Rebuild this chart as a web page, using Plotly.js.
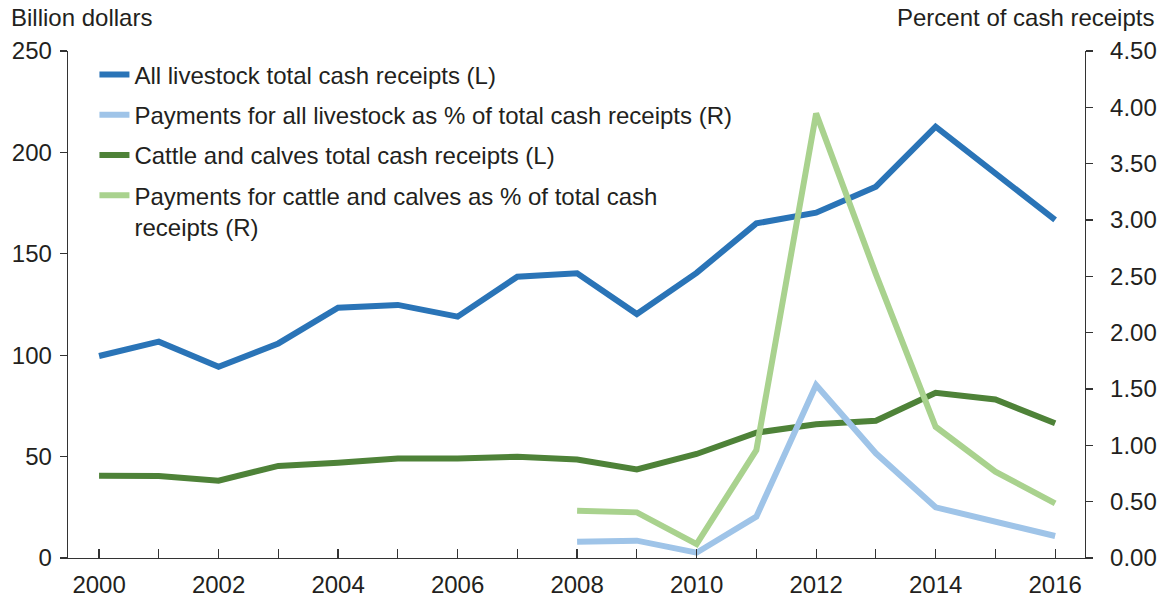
<!DOCTYPE html>
<html>
<head>
<meta charset="utf-8">
<script src="https://cdn.plot.ly/plotly-3.0.1.min.js"></script>
<style>
html, body { margin: 0; padding: 0; background: #fff; }
#chart { width: 1161px; height: 599px; }
</style>
</head>
<body>
<div id="chart"></div>
<script>
// ---- Data ----
const years = [2000, 2001, 2002, 2003, 2004, 2005, 2006, 2007, 2008, 2009, 2010, 2011, 2012, 2013, 2014, 2015, 2016];
const livestockReceipts = [99.6, 106.7, 94.3, 105.8, 123.4, 124.8, 119.0, 138.7, 140.4, 120.3, 140.6, 165.0, 170.3, 183.1, 212.7, 189.5, 166.7];
const cattleReceipts = [40.6, 40.4, 38.1, 45.4, 47.0, 49.1, 49.1, 49.9, 48.6, 43.7, 51.3, 61.8, 65.9, 67.7, 81.5, 78.2, 66.4];
const pctYears = [2008, 2009, 2010, 2011, 2012, 2013, 2014, 2015, 2016];
const livestockPaymentsPct = [0.145, 0.154, 0.047, 0.367, 1.535, 0.929, 0.45, 0.322, 0.195];
const cattlePaymentsPct = [0.42, 0.405, 0.124, 0.958, 3.946, 2.52, 1.165, 0.766, 0.485];
const xTickLabels = years.map(y => (y % 2 === 0 ? String(y) : ''));

const names = [
  'All livestock total cash receipts (L)',
  'Payments for all livestock as % of total cash receipts (R)',
  'Cattle and calves total cash receipts (L)',
  'Payments for cattle and calves as % of total cash<br>receipts (R)'
];
const colors = ['#2a74b7', '#9fc4e8', '#4e8238', '#a9d28e'];

const FONT = 'Liberation Sans, Arial, Helvetica, sans-serif';
const FS = 24;
const TXT = '#231f20';
const AX = '#333333';

const traces = [
  { x: years, y: livestockReceipts, yaxis: 'y', name: names[0], legendgroup: 'a',
    mode: 'lines', line: { color: colors[0], width: 6 } },
  { x: pctYears, y: livestockPaymentsPct, yaxis: 'y2', name: names[1], legendgroup: 'b',
    mode: 'lines', line: { color: colors[1], width: 6 } },
  { x: years, y: cattleReceipts, yaxis: 'y', name: names[2], legendgroup: 'c',
    mode: 'lines', line: { color: colors[2], width: 6 } },
  { x: pctYears, y: cattlePaymentsPct, yaxis: 'y2', name: names[3], legendgroup: 'd',
    mode: 'lines', line: { color: colors[3], width: 6 } }
];

const layout = {
  width: 1161, height: 599,
  margin: { l: 68, r: 76, t: 51, b: 41, pad: 0 },
  paper_bgcolor: '#fff', plot_bgcolor: '#fff',
  font: { family: FONT, size: FS, color: TXT },
  showlegend: true,
  legend: {
    x: 0.026, xanchor: 'left', y: 0.997, yanchor: 'top',
    bgcolor: 'rgba(0,0,0,0)', borderwidth: 0,
    traceorder: 'grouped', tracegroupgap: 6, valign: 'top',
    font: { family: FONT, size: FS, color: TXT }
  },
  xaxis: {
    range: [1999.48, 2016.5],
    tickmode: 'array', tickvals: years, ticktext: xTickLabels,
    ticks: 'inside', ticklen: 9, tickwidth: 1.2, tickcolor: AX,
    ticklabelstandoff: 5,
    showline: true, linecolor: AX, linewidth: 1.3,
    showgrid: false, zeroline: false,
    tickfont: { family: FONT, size: FS, color: TXT }
  },
  yaxis: {
    range: [0, 250], dtick: 50, tick0: 0,
    ticks: 'outside', ticklen: 7, tickwidth: 1.2, tickcolor: AX,
    ticklabelstandoff: 3,
    showline: true, linecolor: AX, linewidth: 1.3,
    showgrid: false, zeroline: false,
    tickfont: { family: FONT, size: FS, color: TXT }
  },
  yaxis2: {
    overlaying: 'y', side: 'right',
    range: [0, 4.5], dtick: 0.5, tick0: 0, tickformat: '.2f',
    ticks: 'outside', ticklen: 7, tickwidth: 1.2, tickcolor: AX,
    ticklabelstandoff: 12,
    showline: true, linecolor: AX, linewidth: 1.3,
    showgrid: false, zeroline: false,
    tickfont: { family: FONT, size: FS, color: TXT }
  },
  annotations: [
    { text: 'Billion dollars', xref: 'paper', yref: 'paper',
      x: (9 - 68) / 1017, xanchor: 'left', y: (558 - 18) / 507, yanchor: 'middle',
      showarrow: false, font: { family: FONT, size: FS, color: TXT } },
    { text: 'Percent of cash receipts', xref: 'paper', yref: 'paper',
      x: (1156 - 68) / 1017, xanchor: 'right', y: (558 - 18) / 507, yanchor: 'middle',
      showarrow: false, font: { family: FONT, size: FS, color: TXT } }
  ]
};

Plotly.newPlot('chart', traces, layout, { displayModeBar: false, staticPlot: true });
</script>
</body>
</html>
